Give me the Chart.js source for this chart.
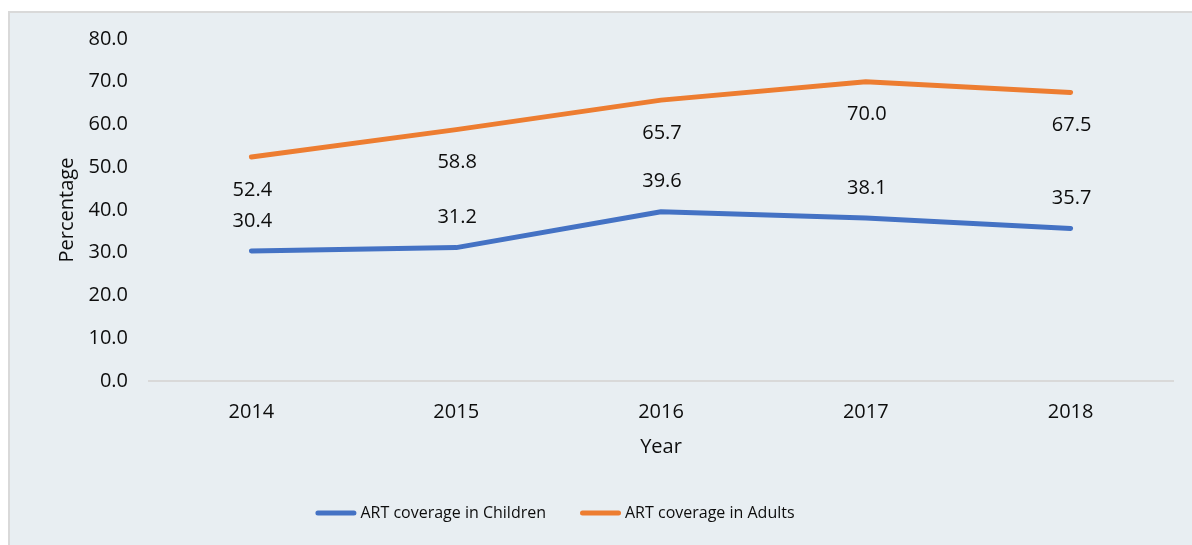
<!DOCTYPE html>
<html>
<head>
<meta charset="utf-8">
<script src="https://cdn.jsdelivr.net/npm/chart.js@4"></script>
<style>
  html, body { margin: 0; padding: 0; background: #ffffff; }
  #wrap { position: absolute; left: 0; top: 0; width: 1192px; height: 545px; }
</style>
</head>
<body>
<div id="wrap"><canvas id="c" width="1192" height="545"></canvas></div>
<script>
const years = ['2014', '2015', '2016', '2017', '2018'];
const childrenCoverage = [30.4, 31.2, 39.6, 38.1, 35.7];
const adultsCoverage = [52.4, 58.8, 65.7, 70.0, 67.5];
const seriesNames = ['ART coverage in Children', 'ART coverage in Adults'];
const yTicks = [0, 10, 20, 30, 40, 50, 60, 70, 80];

const FONT = "'Open Sans', 'Noto Sans', sans-serif";
const TEXT = '#0d0d0d';

const bgPlugin = {
  id: 'bg',
  beforeDraw(chart) {
    const ctx = chart.ctx;
    ctx.save();
    ctx.fillStyle = '#ffffff';
    ctx.fillRect(0, 0, chart.width, chart.height);
    ctx.fillStyle = '#e8eef2';
    ctx.fillRect(8, 11, chart.width - 8, chart.height - 11);
    ctx.strokeStyle = '#d9d9d9';
    ctx.lineWidth = 2;
    ctx.beginPath();
    ctx.moveTo(9, chart.height);
    ctx.lineTo(9, 12);
    ctx.lineTo(chart.width, 12);
    ctx.stroke();
    ctx.restore();
  }
};

const labelPlugin = {
  id: 'dataLabels',
  afterDatasetsDraw(chart) {
    const ctx = chart.ctx;
    ctx.save();
    ctx.font = '20px ' + FONT;
    ctx.fillStyle = TEXT;
    ctx.textAlign = 'center';
    ctx.textBaseline = 'middle';
    chart.data.datasets.forEach((ds, i) => {
      const meta = chart.getDatasetMeta(i);
      const off = ds.labelOffset;
      meta.data.forEach((pt, j) => {
        ctx.fillText(ds.data[j].toFixed(1), pt.x + 1, pt.y + off);
      });
    });
    ctx.restore();
  }
};

const legendPlugin = {
  id: 'customLegend',
  afterDraw(chart) {
    const ctx = chart.ctx;
    ctx.save();
    ctx.font = '16px ' + FONT;
    ctx.textBaseline = 'middle';
    ctx.textAlign = 'left';
    const lineLen = 41, gapText = 4, gapItem = 34;
    const items = chart.data.datasets.map(ds => ({
      label: ds.label, color: ds.borderColor, w: ctx.measureText(ds.label).width
    }));
    let total = 0;
    items.forEach((it, k) => { total += lineLen + gapText + it.w + (k < items.length - 1 ? gapItem : 0); });
    let x = 555 - total / 2;
    const y = 513;
    items.forEach(it => {
      ctx.strokeStyle = it.color;
      ctx.lineWidth = 5;
      ctx.lineCap = 'round';
      ctx.beginPath();
      ctx.moveTo(x + 2.5, y);
      ctx.lineTo(x + lineLen - 2.5, y);
      ctx.stroke();
      ctx.fillStyle = TEXT;
      ctx.fillText(it.label, x + lineLen + gapText, y);
      x += lineLen + gapText + it.w + gapItem;
    });
    ctx.restore();
  }
};

new Chart(document.getElementById('c'), {
  type: 'line',
  data: {
    labels: years,
    datasets: [
      {
        label: seriesNames[0],
        data: childrenCoverage,
        borderColor: '#4472c4',
        backgroundColor: '#4472c4',
        borderWidth: 5,
        borderCapStyle: 'round',
        borderJoinStyle: 'round',
        pointRadius: 0,
        tension: 0,
        labelOffset: -30
      },
      {
        label: seriesNames[1],
        data: adultsCoverage,
        borderColor: '#ed7d31',
        backgroundColor: '#ed7d31',
        borderWidth: 5,
        borderCapStyle: 'round',
        borderJoinStyle: 'round',
        pointRadius: 0,
        tension: 0,
        labelOffset: 33
      }
    ]
  },
  options: {
    responsive: false,
    animation: false,
    devicePixelRatio: 1,
    layout: { padding: { left: 0, right: 19, top: 39, bottom: 86 } },
    plugins: {
      legend: { display: false },
      tooltip: { enabled: false }
    },
    scales: {
      x: {
        offset: true,
        grid: { display: false },
        border: { display: true, color: '#d9d9d9', width: 2 },
        ticks: { color: TEXT, font: { family: FONT, size: 20 }, padding: 11, maxRotation: 0 },
        title: { display: true, text: 'Year', color: TEXT, font: { family: FONT, size: 20 }, padding: { top: 0, bottom: 0 } },
        afterFit(scale) { scale.height = 78; }
      },
      y: {
        min: 0,
        max: 80,
        afterBuildTicks(scale) { scale.ticks = yTicks.map(v => ({ value: v })); },
        grid: { display: false },
        border: { display: false },
        ticks: {
          color: TEXT,
          font: { family: FONT, size: 20 },
          padding: 13,
          callback: v => Number(v).toFixed(1)
        },
        title: { display: true, text: 'Percentage', color: TEXT, font: { family: FONT, size: 20 }, padding: { top: 55, bottom: 0 } },
        afterFit(scale) { scale.width = 149; }
      }
    }
  },
  plugins: [bgPlugin, labelPlugin, legendPlugin]
});
</script>
</body>
</html>
